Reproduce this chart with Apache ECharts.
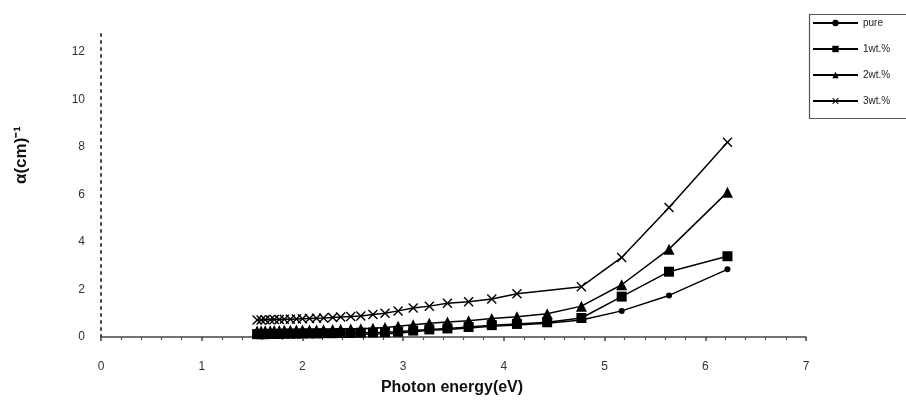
<!DOCTYPE html>
<html>
<head>
<meta charset="utf-8">
<script src="https://cdn.jsdelivr.net/npm/echarts@6/dist/echarts.min.js"></script>
<style>
  html, body { margin: 0; padding: 0; background: #fff; }
  #chart { width: 906px; height: 400px; }
</style>
</head>
<body>
<div id="chart"></div>
<script>
// Photon energy (eV) of each measured wavelength
var energy = [1.55, 1.59, 1.63, 1.68, 1.72, 1.77, 1.82, 1.88, 1.94, 2.00,
              2.07, 2.14, 2.21, 2.30, 2.38, 2.48, 2.58, 2.70, 2.82, 2.95,
              3.10, 3.26, 3.44, 3.65, 3.88, 4.13, 4.43, 4.77, 5.17, 5.64, 6.22];

// Absorption coefficient for each sample
var pure = [0.05, 0.05, 0.06, 0.06, 0.06, 0.07, 0.07, 0.07, 0.08, 0.08,
            0.08, 0.09, 0.09, 0.10, 0.10, 0.11, 0.12, 0.13, 0.14, 0.16,
            0.22, 0.28, 0.32, 0.38, 0.45, 0.50, 0.58, 0.72, 1.10, 1.75, 2.85];
var wt1 = [0.12, 0.12, 0.12, 0.13, 0.13, 0.13, 0.14, 0.14, 0.14, 0.15,
           0.15, 0.15, 0.16, 0.16, 0.17, 0.17, 0.18, 0.19, 0.20, 0.22,
           0.27, 0.32, 0.36, 0.42, 0.50, 0.55, 0.62, 0.80, 1.70, 2.75, 3.40];
var wt2 = [0.25, 0.25, 0.26, 0.26, 0.27, 0.27, 0.28, 0.28, 0.29, 0.29,
           0.30, 0.30, 0.31, 0.32, 0.33, 0.34, 0.35, 0.37, 0.40, 0.45,
           0.52, 0.58, 0.63, 0.68, 0.78, 0.85, 0.98, 1.30, 2.20, 3.70, 6.10];
var wt3 = [0.72, 0.72, 0.73, 0.73, 0.74, 0.74, 0.75, 0.75, 0.76, 0.77,
           0.78, 0.79, 0.80, 0.82, 0.84, 0.86, 0.88, 0.95, 1.00, 1.10,
           1.22, 1.30, 1.42, 1.48, 1.60, 1.82, null, 2.12, 3.35, 5.45, 8.20];

var seriesNames = ['pure', '1wt.%', '2wt.%', '3wt.%'];
var xTicks = [0, 1, 2, 3, 4, 5, 6, 7];
var yTicks = [0, 2, 4, 6, 8, 10, 12];

var FONT = '"Liberation Sans", Arial, sans-serif';
var crossPath = 'path://M0,1 L1,0 L5,4 L9,0 L10,1 L6,5 L10,9 L9,10 L5,6 L1,10 L0,9 L4,5 Z';

function pairs(vals) {
  return energy.map(function (e, i) { return [e, vals[i]]; });
}

function lineSeries(name, vals, symbol, size) {
  return {
    name: name,
    type: 'line',
    data: pairs(vals),
    symbol: symbol,
    symbolSize: size,
    connectNulls: true,
    lineStyle: { color: '#000', width: 1.5 },
    itemStyle: { color: '#000' },
    emphasis: { disabled: true }
  };
}

var chart = echarts.init(document.getElementById('chart'), null, { renderer: 'canvas' });

chart.setOption({
  animation: false,
  backgroundColor: '#fff',
  grid: { left: 101, right: 100, top: 33, bottom: 63, containLabel: false },
  xAxis: {
    type: 'value',
    min: xTicks[0],
    max: xTicks[xTicks.length - 1],
    interval: 1,
    splitLine: { show: false },
    axisLine: { show: true, lineStyle: { color: '#444', width: 1.5 } },
    axisTick: { show: true, inside: false, length: 4, lineStyle: { color: '#444', width: 1.5 } },
    minorTick: { show: true, splitNumber: 5, length: 3, lineStyle: { color: '#555', width: 1.2 } },
    axisLabel: {
      color: '#333', fontFamily: FONT, fontSize: 12, margin: 24,
      formatter: function (v) { return xTicks.indexOf(v) >= 0 ? String(v) : ''; }
    }
  },
  yAxis: {
    type: 'value',
    min: 0,
    max: 12.8,
    interval: 2,
    splitLine: { show: false },
    axisLine: { show: true, lineStyle: { color: '#444', width: 2, type: [2, 5] } },
    axisTick: { show: false },
    axisLabel: {
      color: '#333', fontFamily: FONT, fontSize: 12, margin: 16,
      showMaxLabel: false,
      formatter: function (v) { return yTicks.indexOf(v) >= 0 ? String(v) : ''; }
    }
  },
  legend: {
    orient: 'vertical',
    left: 812,
    top: 18,
    itemWidth: 45,
    itemHeight: 8,
    itemGap: 16,
    padding: 0,
    textStyle: { color: '#222', fontFamily: FONT, fontSize: 10 },
    data: seriesNames
  },
  graphic: [
    {
      type: 'rect',
      left: 807, top: 12,
      shape: { width: 130, height: 104 },
      style: { fill: 'none', stroke: '#555', lineWidth: 1.2 },
      z: 100
    },
    {
      type: 'text',
      x: 452, y: 388,
      style: {
        text: 'Photon energy(eV)', fill: '#111',
        font: 'bold 16px ' + FONT, textAlign: 'center', textVerticalAlign: 'middle'
      }
    },
    {
      type: 'text',
      x: 21, y: 155,
      rotation: Math.PI / 2,
      style: {
        text: 'α(cm)⁻¹', fill: '#111',
        font: 'bold 17px ' + FONT, textAlign: 'center', textVerticalAlign: 'middle'
      }
    }
  ],
  series: [
    lineSeries(seriesNames[0], pure, 'circle', 6),
    lineSeries(seriesNames[1], wt1, 'rect', 10),
    lineSeries(seriesNames[2], wt2, 'triangle', 11),
    lineSeries(seriesNames[3], wt3, crossPath, 10)
  ]
});
</script>
</body>
</html>
